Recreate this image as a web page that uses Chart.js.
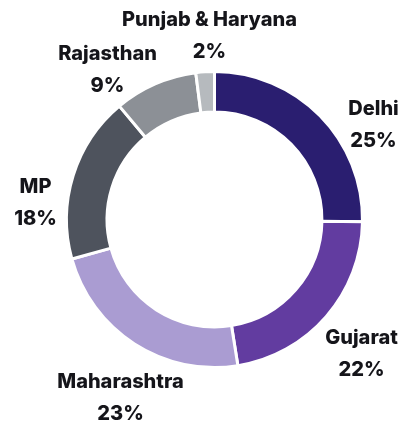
<!DOCTYPE html>
<html>
<head>
<meta charset="utf-8">
<script src="https://cdn.jsdelivr.net/npm/chart.js@4.4.1/dist/chart.umd.min.js"></script>
<style>
    html, body { margin: 0; padding: 0; background: #ffffff; }
    #wrap { width: 405px; height: 424px; }
</style>
</head>
<body>
<div id="wrap"><canvas id="chart1" width="405" height="424"></canvas></div>
<script>
// regional share, clockwise from 12 o'clock
const states = ['Delhi', 'Gujarat', 'Maharashtra', 'MP', 'Rajasthan', 'Punjab & Haryana'];
const shares = [25, 22, 23, 18, 9, 2];
const sliceColors = [
    'rgb(42, 30, 112)',
    'rgb(98, 60, 160)',
    'rgb(170, 156, 210)',
    'rgb(78, 83, 93)',
    'rgb(140, 144, 150)',
    'rgb(182, 186, 190)'
];

// where each name/percent pair sits: centre x, y of the name line, relative to the ring centre
const labelSpots = [
    [159, -111],
    [147, 118],
    [-94, 162],
    [-179, -33],
    [-107, -166],
    [-5, -200]
];

const outsideLabels = {
    id: 'outsideLabels',
    afterDatasetsDraw(chart) {
        const ctx = chart.ctx;
        const arc = chart.getDatasetMeta(0).data[0];
        const cx = arc.x, cy = arc.y;
        ctx.save();
        ctx.fillStyle = '#15151a';
        ctx.font = '800 20px Inter';
        ctx.textAlign = 'center';
        ctx.textBaseline = 'middle';
        states.forEach(function (name, i) {
            const x = cx + labelSpots[i][0];
            const y = cy + labelSpots[i][1];
            ctx.fillText(name, x, y);
            ctx.fillText(shares[i] + '%', x, y + 32);
        });
        ctx.restore();
    }
};

const shareData = {
    labels: states,
    datasets: [{
        data: shares,
        backgroundColor: sliceColors,
        borderColor: '#ffffff',
        borderWidth: 3,
        hoverOffset: 0
    }]
};

const config = {
    type: 'doughnut',
    data: shareData,
    options: {
        responsive: false,
        animation: false,
        cutout: '72.6%',
        layout: {
            padding: { left: 65, right: 41, top: 70, bottom: 55 }
        },
        plugins: {
            legend: { display: false },
            tooltip: { enabled: false }
        }
    },
    plugins: [outsideLabels]
};

var myDoughchart = new Chart(document.getElementById('chart1'), config);
</script>
</body>
</html>
